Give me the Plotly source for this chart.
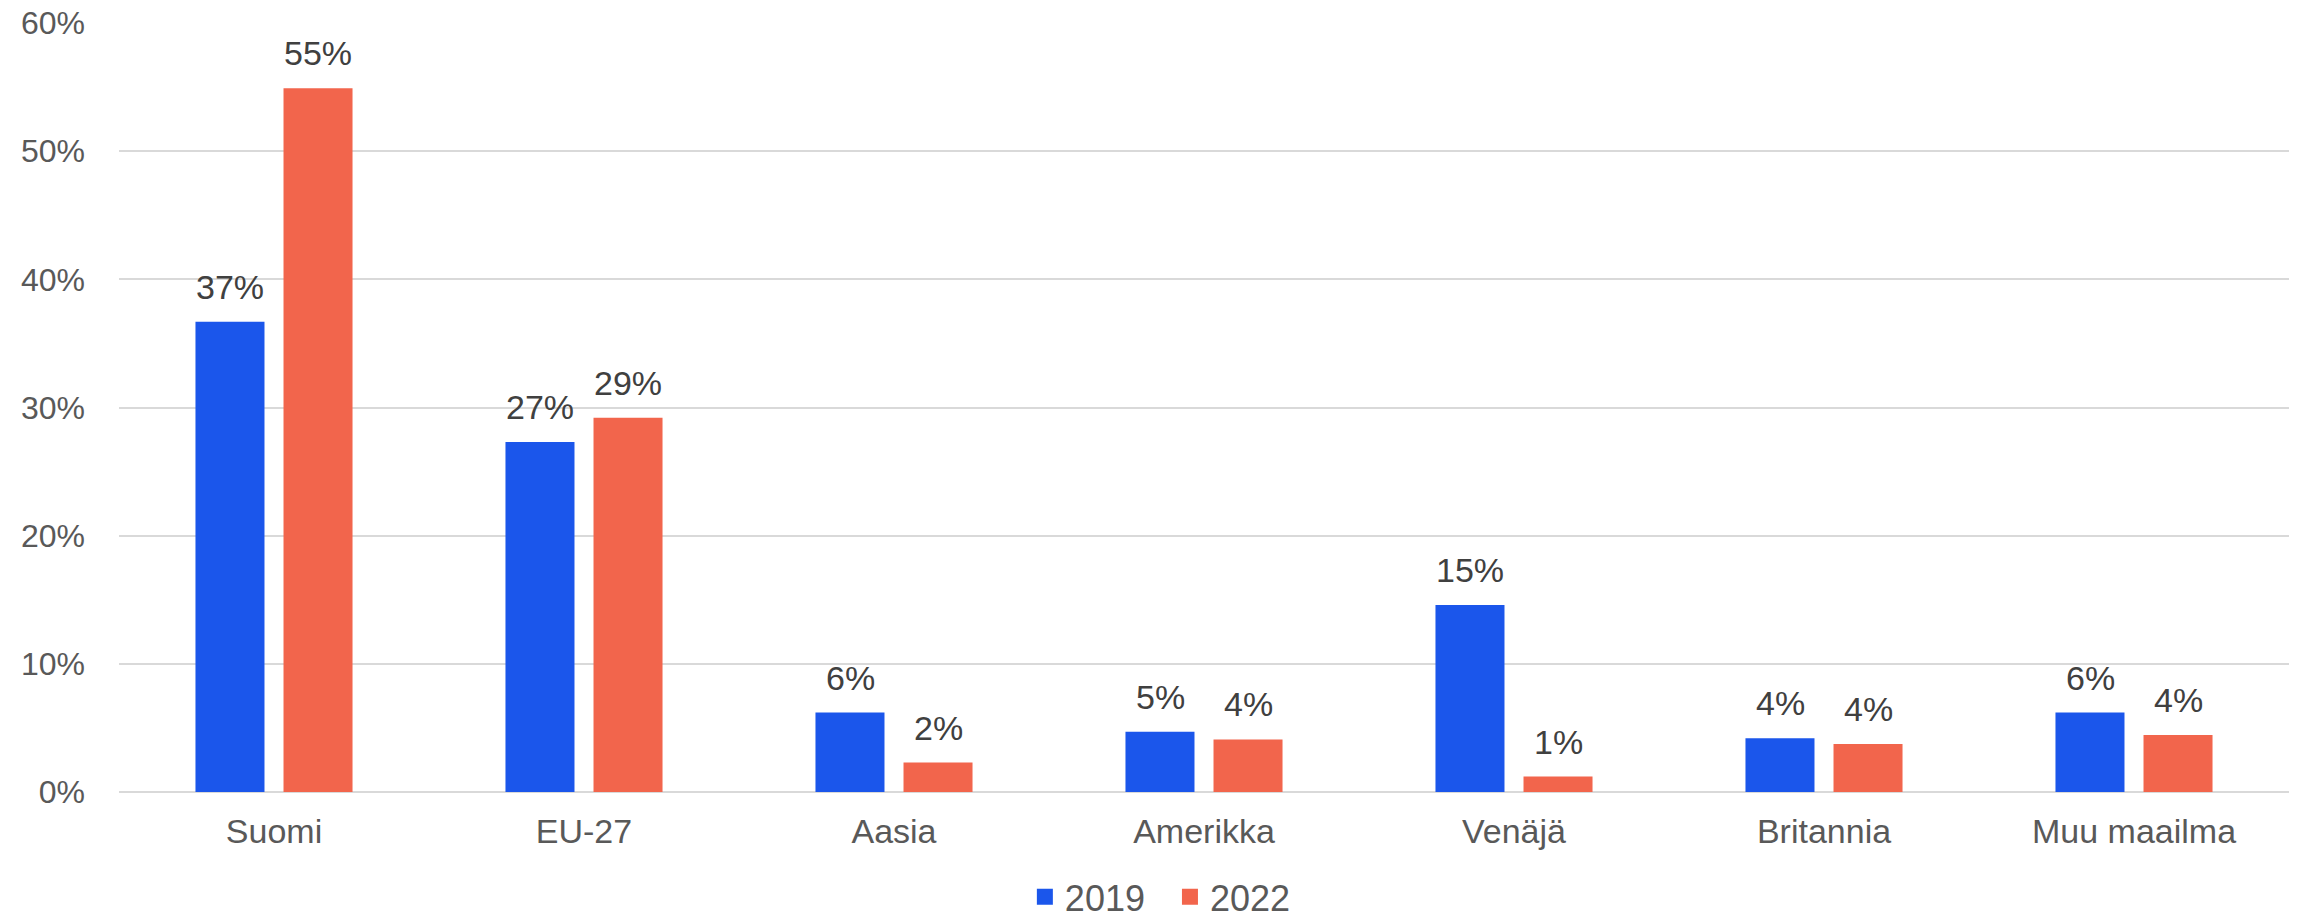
import plotly.graph_objects as go

categories = ["Suomi", "EU-27", "Aasia", "Amerikka", "Venäjä", "Britannia", "Muu maailma"]
values_2019 = [0.367, 0.273, 0.062, 0.047, 0.146, 0.042, 0.062]
values_2022 = [0.549, 0.292, 0.023, 0.041, 0.012, 0.0375, 0.0445]
series_names = ["2019", "2022"]
tick_vals = [0, 0.1, 0.2, 0.3, 0.4, 0.5, 0.6]

colors = ["#1B56EB", "#F2654C"]
FONT = "Liberation Sans, Arial, sans-serif"

fig = go.Figure()
for name, vals, col in zip(series_names, [values_2019, values_2022], colors):
    fig.add_trace(go.Bar(
        x=categories, y=vals, name=name,
        marker=dict(color=col, line=dict(width=0)),
        hoverinfo="skip", showlegend=False,
    ))
# legend-only entries with larger square swatches
for name, col in zip(series_names, colors):
    fig.add_trace(go.Scatter(
        x=[None], y=[None], name=name + "  ", mode="markers",
        marker=dict(symbol="square", size=20, color=col),
    ))

# value labels above each bar
shifts = [-44, 44]
for vals, xs in zip([values_2019, values_2022], shifts):
    for c, v in zip(categories, vals):
        fig.add_annotation(
            x=c, y=v, xref="x", yref="y",
            text=f"{round(v*100):.0f}%",
            showarrow=False, xshift=xs, yshift=14, yanchor="bottom",
            font=dict(family=FONT, size=34, color="#404040"),
        )

fig.update_layout(
    width=2297, height=920,
    margin=dict(l=119, r=8, t=23, b=128, autoexpand=False),
    paper_bgcolor="white", plot_bgcolor="white",
    barmode="group", bargap=0.432, bargroupgap=0.216,
    font=dict(family=FONT, size=34, color="#595959"),
    legend=dict(
        orientation="h", x=0.4845, xanchor="center",
        y=-0.1365, yanchor="middle",
        font=dict(family=FONT, size=36, color="#595959"),
        itemwidth=30, tracegroupgap=0, itemsizing="trace",
    ),
    showlegend=True,
)
fig.update_yaxes(
    range=[0, 0.6], tickvals=tick_vals, tickformat=".0%",
    showgrid=True, gridcolor="#D9D9D9", gridwidth=2,
    zeroline=True, zerolinecolor="#D9D9D9", zerolinewidth=2,
    showline=False, ticks="", ticklabelstandoff=33, automargin=False,
    tickfont=dict(family=FONT, size=32, color="#595959"),
)
fig.update_xaxes(
    showline=False, ticks="", ticklabelstandoff=16, automargin=False,
    tickfont=dict(family=FONT, size=34, color="#595959"),
)

fig.write_html(
    "out.html",
    config={"displayModeBar": False},
    post_script="document.body.style.margin='0';document.body.style.overflow='hidden';",
)
